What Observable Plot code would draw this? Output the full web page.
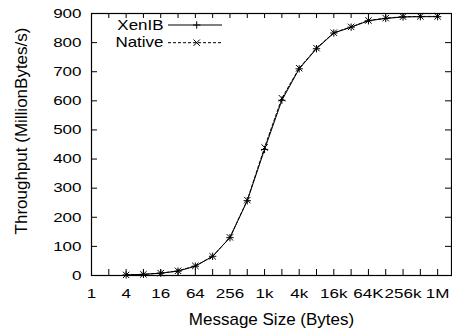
<!DOCTYPE html>
<html><head><meta charset="utf-8">
<script src="https://cdn.jsdelivr.net/npm/d3@7"></script>
<script src="https://cdn.jsdelivr.net/npm/@observablehq/plot@0.6"></script>
<style>
body{margin:0;background:#fff;}
#wrap{position:relative;width:452px;height:331px;background:#fff;}
#wrap svg{position:absolute;left:0;top:0;}
</style></head><body><div id="wrap"></div>
<script>
// Message sizes (bytes)
const sizes = [4, 8, 16, 32, 64, 128, 256, 512, 1024, 2048, 4096, 8192, 16384, 32768, 65536, 131072, 262144, 524288, 1048576];
// Throughput (MillionBytes/s)
const xenib  = [2, 4, 8, 15, 32, 66, 130, 257, 433, 602, 710, 779, 833, 853, 875, 883, 888, 889, 889];
const native = [2, 4, 8, 16, 33, 66, 131, 259, 440, 609, 712, 781, 834, 854, 876, 884, 889, 890, 890];
const seriesNames = ["XenIB", "Native"];

const xLabelValues = [1, 4, 16, 64, 256, 1024, 4096, 16384, 65536, 262144, 1048576];
const xTickLabels  = ["1", "4", "16", "64", "256", "1k", "4k", "16k", "64K", "256k", "1M"];
const xTickMarks   = [2, 4, 8, 16, 32, 64, 128, 256, 512, 1024, 2048, 4096, 8192, 16384, 32768, 65536, 131072, 262144, 524288, 1048576];
const yTicks = [0, 100, 200, 300, 400, 500, 600, 700, 800, 900];

const rows = sizes.flatMap((s, i) => [
  {size: s, v: xenib[i], series: seriesNames[0]},
  {size: s, v: native[i], series: seriesNames[1]}
]);
const isX = d => d.series === "XenIB";
const isN = d => d.series === "Native";

const chart = Plot.plot({
  width: 452, height: 331,
  marginLeft: 91, marginRight: 1, marginTop: 13, marginBottom: 56,
  style: {fontFamily: "'Liberation Sans', Arial, sans-serif", fontSize: "13.5px", background: "white", color: "black"},
  x: {type: "log", base: 2, domain: [1, 2 ** 20.8]},
  y: {domain: [0, 900]},
  marks: [
    Plot.axisX(xLabelValues, {tickSize: 0, tickPadding: 13, tickFormat: d => xTickLabels[xLabelValues.indexOf(d)], label: null}),
    Plot.axisY(yTicks, {tickSize: 0, tickPadding: 10, label: null}),
    Plot.tickX(xTickMarks, {x: d => d, insetTop: 256, stroke: "black"}),
    Plot.tickX(xTickMarks, {x: d => d, insetBottom: 257, stroke: "black"}),
    Plot.tickY(yTicks, {y: d => d, insetRight: 354, stroke: "black"}),
    Plot.tickY(yTicks, {y: d => d, insetLeft: 354, stroke: "black"}),
    Plot.frame({stroke: "black", strokeWidth: 1.2}),
    Plot.line(rows, {filter: isN, x: "size", y: "v", stroke: "black", strokeWidth: 1, strokeDasharray: "3,2"}),
    Plot.line(rows, {filter: isX, x: "size", y: "v", stroke: "black", strokeWidth: 1}),
    Plot.dot(rows, {filter: isX, x: "size", y: "v", symbol: "plus", r: 2.5, stroke: "black", strokeWidth: 1}),
    Plot.dot(rows, {filter: isN, x: "size", y: "v", symbol: "times", r: 3, stroke: "black", strokeWidth: 1}),
    Plot.text(["Message Size (Bytes)"], {frameAnchor: "bottom", textAnchor: "middle", lineAnchor: "middle", dy: 44, fontSize: 17, fill: "black"}),
    Plot.text(["Throughput (MillionBytes/s)"], {frameAnchor: "left", textAnchor: "middle", lineAnchor: "middle", rotate: -90, dx: -70, dy: -13.5, fontSize: 17, fill: "black"})
  ]
});

// widen tick label glyphs horizontally (reference text is horizontally stretched)
const sx = 17 / 13.5;
d3.select(chart).selectAll('g[aria-label$="tick label"] text').each(function () {
  const t = this.getAttribute("transform") || "";
  let extra = "";
  const xa = this.getAttribute("x"), ya = this.getAttribute("y");
  if (xa !== null && /^-?[\d.]+$/.test(xa)) { extra += ` translate(${xa},0)`; this.removeAttribute("x"); }
  if (ya !== null && /^-?[\d.]+$/.test(ya)) { extra += ` translate(0,${ya})`; this.removeAttribute("y"); }
  this.setAttribute("transform", `${t}${extra} scale(${sx},1)`);
});

document.getElementById("wrap").appendChild(chart);

// legend (inside plot, top-left, gnuplot style)
const leg = d3.select("#wrap").append("svg").attr("width", 452).attr("height", 331)
  .style("pointer-events", "none")
  .attr("font-family", "'Liberation Sans', Arial, sans-serif");
const legItems = [
  {name: seriesNames[0], dash: null, sym: d3.symbolPlus, r: 2.5, ly: 25, ty: 30},
  {name: seriesNames[1], dash: "3,2", sym: d3.symbolTimes, r: 3, ly: 42.7, ty: 46.8}
];
legItems.forEach(it => {
  leg.append("text").attr("transform", `translate(163.5,${it.ty}) scale(1.13,1)`)
    .attr("text-anchor", "end").attr("font-size", 15).attr("fill", "black").text(it.name);
  leg.append("line").attr("x1", 168).attr("x2", 222).attr("y1", it.ly).attr("y2", it.ly)
    .attr("stroke", "black").attr("stroke-width", 1).attr("stroke-dasharray", it.dash);
  leg.append("path").attr("d", d3.symbol(it.sym, Math.PI * it.r * it.r)())
    .attr("transform", `translate(196.7,${it.ly})`).attr("fill", "none").attr("stroke", "black");
});
</script></body></html>
